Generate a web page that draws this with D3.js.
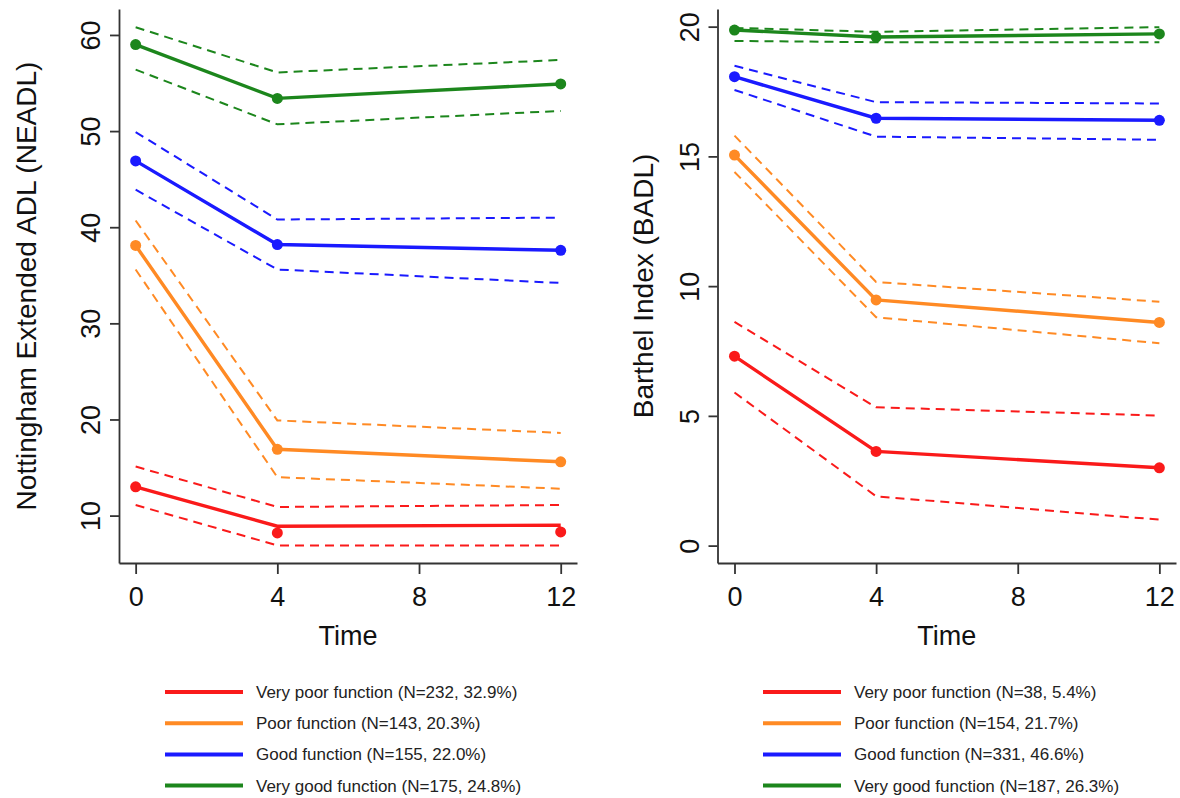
<!DOCTYPE html>
<html>
<head>
<meta charset="utf-8">
<script src="https://cdn.jsdelivr.net/npm/d3@7"></script>
<style>
  body { margin: 0; background: #fff; }
  svg { font-family: "Liberation Sans", Arial, sans-serif; }
</style>
</head>
<body>
<div id="chart"></div>
<script>
// time points and groups
const times = [0, 4, 12];
const xTicks = [0, 4, 8, 12];
const groups = ["Very poor function", "Poor function", "Good function", "Very good function"];

// NEADL panel
const neadlMean  = [[13.0, 8.9, 9.0], [38.1, 16.9, 15.6], [46.9, 38.2, 37.6], [59.0, 53.4, 54.9]];
const neadlLower = [[11.1, 6.9, 6.9], [35.6, 14.0, 12.8], [43.9, 35.6, 34.2], [56.4, 50.7, 52.1]];
const neadlUpper = [[15.1, 10.9, 11.1], [40.7, 19.9, 18.6], [49.9, 40.8, 41.0], [60.8, 56.1, 57.4]];
const neadlPoints = [[13.0, 8.2, 8.3], [38.1, 16.9, 15.6], [46.9, 38.2, 37.6], [59.0, 53.4, 54.9]];
const neadlTicks = [10, 20, 30, 40, 50, 60];
const neadlN = ["N=232, 32.9%", "N=143, 20.3%", "N=155, 22.0%", "N=175, 24.8%"];

// BADL panel
const badlMean  = [[7.3, 3.63, 3.0], [15.05, 9.47, 8.6], [18.07, 16.47, 16.39], [19.87, 19.6, 19.72]];
const badlLower = [[5.9, 1.9, 1.0], [14.4, 8.8, 7.8], [17.56, 15.76, 15.64], [19.45, 19.4, 19.4]];
const badlUpper = [[8.62, 5.33, 5.01], [15.8, 10.16, 9.4], [18.49, 17.09, 17.04], [19.95, 19.8, 19.98]];
const badlPoints = [[7.3, 3.63, 3.0], [15.05, 9.47, 8.6], [18.07, 16.47, 16.39], [19.87, 19.6, 19.72]];
const badlTicks = [0, 5, 10, 15, 20];
const badlN = ["N=38, 5.4%", "N=154, 21.7%", "N=331, 46.6%", "N=187, 26.3%"];

const colors = ["#fa1a1a", "#ff8a24", "#1a1aff", "#1c861c"];
const axisColor = "#333";

const svg = d3.select("#chart").append("svg")
  .attr("width", 1180)
  .attr("height", 798);

function drawPanel(opt) {
  const x = d3.scaleLinear().domain(opt.xDomain).range(opt.xRange);
  const y = d3.scaleLinear().domain(opt.yDomain).range([563, 9]);
  const g = svg.append("g");

  // x axis
  const xa = g.append("g")
    .attr("transform", "translate(0,563)")
    .call(d3.axisBottom(x).tickValues(xTicks).tickSize(11).tickSizeOuter(0));
  xa.selectAll("text")
    .attr("y", 24).attr("dy", "0.71em")
    .style("font-size", "27px").style("fill", "#111");

  // y axis
  const ya = g.append("g")
    .attr("transform", `translate(${opt.xRange[0]},0)`)
    .call(d3.axisLeft(y).tickValues(opt.yTicks).tickSize(9).tickSizeOuter(0));
  ya.selectAll("text")
    .attr("x", null).attr("dy", null)
    .attr("text-anchor", "middle")
    .attr("transform", "translate(-19,0) rotate(-90)")
    .style("font-size", "27px").style("fill", "#111");

  g.selectAll(".domain, .tick line")
    .attr("stroke", axisColor).attr("stroke-width", 1.8);

  // axis titles
  g.append("text")
    .attr("x", (opt.xRange[0] + opt.xRange[1]) / 2)
    .attr("y", 645)
    .attr("text-anchor", "middle")
    .style("font-size", "27px").style("fill", "#111")
    .text("Time");
  g.append("text")
    .attr("transform", `translate(${opt.titleX},286) rotate(-90)`)
    .attr("text-anchor", "middle")
    .style("font-size", "28px").style("fill", "#111")
    .text(opt.yTitle);

  const line = d3.line().x((d, i) => x(times[i])).y(d => y(d));

  // confidence bands (dashed)
  [opt.lower, opt.upper].forEach(band => {
    g.append("g").selectAll("path")
      .data(band)
      .join("path")
      .attr("d", d => line(d))
      .attr("fill", "none")
      .attr("stroke", (d, i) => colors[i])
      .attr("stroke-width", 2)
      .attr("stroke-dasharray", "9,6");
  });

  // mean trajectories
  g.append("g").selectAll("path")
    .data(opt.mean)
    .join("path")
    .attr("d", d => line(d))
    .attr("fill", "none")
    .attr("stroke", (d, i) => colors[i])
    .attr("stroke-width", 3.4);

  // observed points
  opt.points.forEach((pts, i) => {
    g.append("g").selectAll("circle")
      .data(pts)
      .join("circle")
      .attr("cx", (d, j) => x(times[j]))
      .attr("cy", d => y(d))
      .attr("r", 5.5)
      .attr("fill", colors[i]);
  });

  // legend
  const leg = g.append("g").selectAll("g")
    .data(groups)
    .join("g")
    .attr("transform", (d, i) => `translate(0,${692 + i * 31.2})`);
  leg.append("line")
    .attr("x1", opt.legX).attr("x2", opt.legX + 78)
    .attr("stroke", (d, i) => colors[i])
    .attr("stroke-width", 4);
  leg.append("text")
    .attr("x", opt.legX + 91)
    .attr("y", 6)
    .style("font-size", "17px").style("fill", "#222")
    .text((d, i) => `${d} (${opt.n[i]})`);
}

drawPanel({
  xDomain: [-0.47, 12.46], xRange: [119, 577],
  yDomain: [5.07, 62.7], yTicks: neadlTicks,
  yTitle: "Nottingham Extended ADL (NEADL)", titleX: 36,
  mean: neadlMean, lower: neadlLower, upper: neadlUpper, points: neadlPoints,
  n: neadlN, legX: 165
});

drawPanel({
  xDomain: [-0.48, 12.47], xRange: [717.5, 1176],
  yDomain: [-0.67, 20.68], yTicks: badlTicks,
  yTitle: "Barthel Index (BADL)", titleX: 653,
  mean: badlMean, lower: badlLower, upper: badlUpper, points: badlPoints,
  n: badlN, legX: 763
});
</script>
</body>
</html>
